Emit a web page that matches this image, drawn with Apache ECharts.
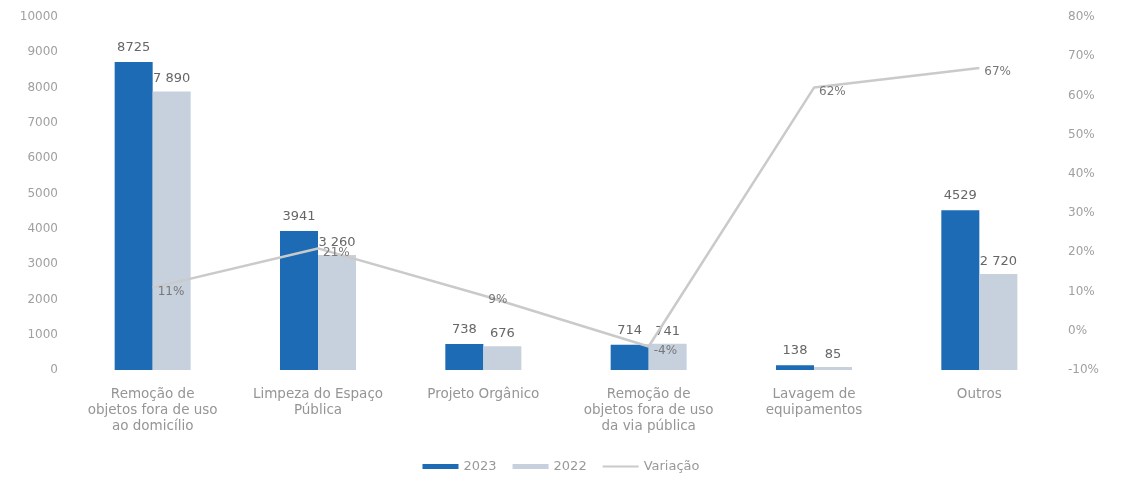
<!DOCTYPE html>
<html>
<head>
<meta charset="utf-8">
<script src="https://cdn.jsdelivr.net/npm/echarts@6/dist/echarts.min.js"></script>
<style>
  html, body { margin: 0; padding: 0; background: #ffffff; }
  #chart { width: 1122px; height: 483px; }
</style>
</head>
<body>
<div id="chart"></div>
<script>
// Categories of service requests
const categories = [
  'Remoção de\nobjetos fora de uso\nao domicílio',
  'Limpeza do Espaço\nPública',
  'Projeto Orgânico',
  'Remoção de\nobjetos fora de uso\nda via pública',
  'Lavagem de\nequipamentos',
  'Outros'
];
// Number of requests per year
const values2023 = [8725, 3941, 738, 714, 138, 4529];
const values2022 = [7890, 3260, 676, 741, 85, 2720];
// Year-over-year change, in percent
const variacao = [11, 21, 9, -4, 62, 67];

const FONT = '"DejaVu Sans", Lato, sans-serif';
const spaced = v => String(v).replace(/\B(?=(\d{3})+(?!\d))/g, ' ');

const chart = echarts.init(document.getElementById('chart'));
chart.setOption({
  backgroundColor: '#ffffff',
  textStyle: { fontFamily: FONT },
  grid: { left: 70, right: 60, top: 17, bottom: 113 },
  legend: {
    bottom: 5,
    left: 'center',
    itemWidth: 36,
    itemHeight: 5,
    itemGap: 16,
    textStyle: { color: '#999', fontSize: 13, fontFamily: FONT },
    data: [
      { name: '2023', icon: 'rect' },
      { name: '2022', icon: 'rect' },
      { name: 'Variação', icon: 'path://M0,0h36v2h-36z' }
    ]
  },
  xAxis: {
    type: 'category',
    data: categories,
    axisLine: { show: false },
    axisTick: { show: false },
    axisLabel: {
      color: '#959595',
      fontSize: 13.5,
      lineHeight: 16,
      margin: 16,
      interval: 0
    }
  },
  yAxis: [
    {
      type: 'value',
      min: 0, max: 10000, interval: 1000,
      splitLine: { show: false },
      axisLine: { show: false },
      axisTick: { show: false },
      axisLabel: { color: '#a0a0a0', fontSize: 12, margin: 12, formatter: v => String(v) }
    },
    {
      type: 'value',
      min: -10, max: 80, interval: 10,
      splitLine: { show: false },
      axisLine: { show: false },
      axisTick: { show: false },
      axisLabel: { color: '#a0a0a0', fontSize: 12, margin: 6, formatter: '{value}%' }
    }
  ],
  series: [
    {
      name: '2023',
      type: 'bar',
      data: values2023,
      barWidth: 38,
      barGap: '0%',
      itemStyle: { color: '#1d6ab5' },
      label: { show: true, position: 'top', color: '#666', fontSize: 13, distance: 8 }
    },
    {
      name: '2022',
      type: 'bar',
      data: values2022,
      barWidth: 38,
      itemStyle: { color: '#c6d1dd' },
      label: {
        show: true, position: 'top', color: '#666', fontSize: 13, distance: 6,
        formatter: p => spaced(p.value)
      }
    },
    {
      name: 'Variação',
      type: 'line',
      yAxisIndex: 1,
      z: 5,
      data: variacao,
      symbol: 'circle',
      symbolSize: 0,
      showSymbol: true,
      lineStyle: { color: '#cacaca', width: 2.5 },
      itemStyle: { color: '#cacaca' },
      label: {
        show: true,
        position: 'right',
        offset: [0, 4],
        color: '#777',
        fontSize: 12,
        formatter: '{c}%'
      }
    }
  ]
});
</script>
</body>
</html>
